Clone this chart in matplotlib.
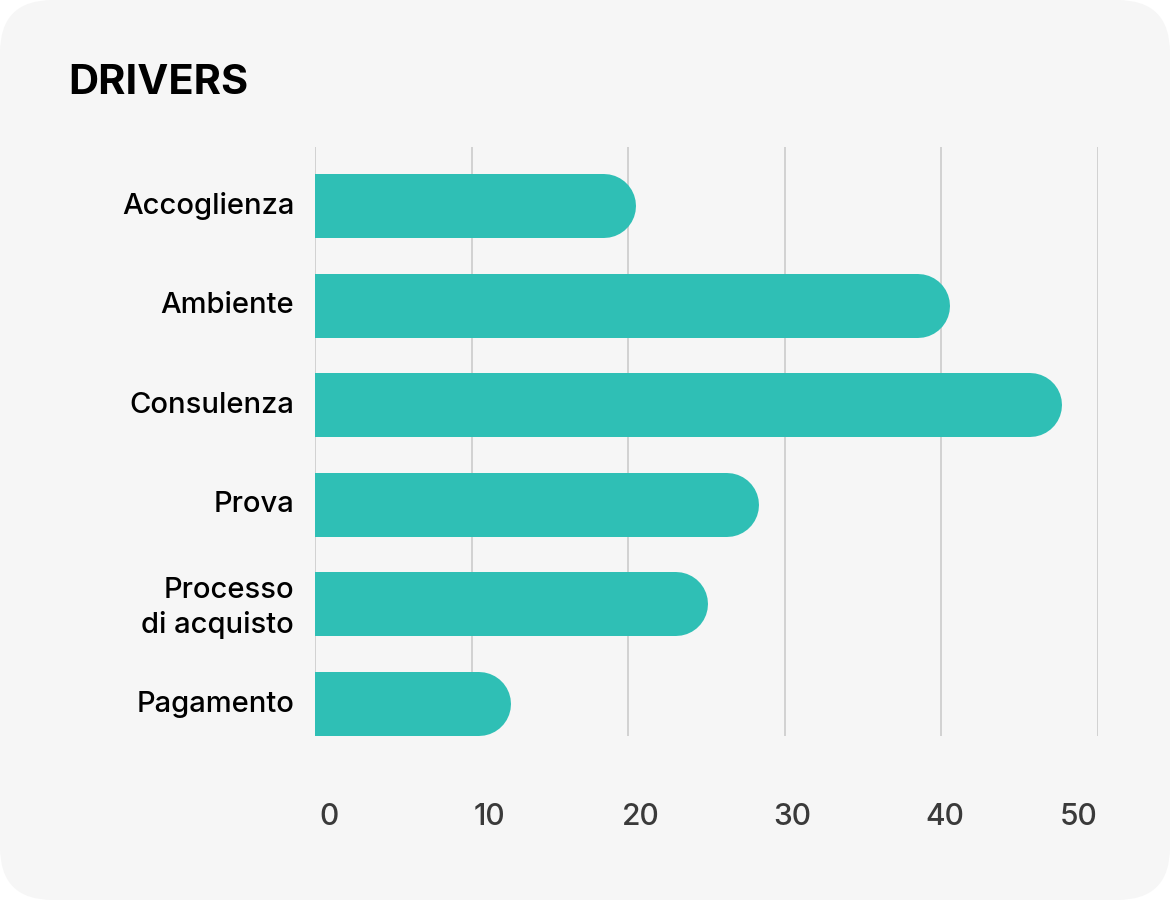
import matplotlib.pyplot as plt
from matplotlib.patches import FancyBboxPatch
from matplotlib.transforms import ScaledTranslation

plt.rcParams['font.family'] = ['Inter', 'DejaVu Sans']

categories = ["Accoglienza", "Ambiente", "Consulenza", "Prova", "Processo\ndi acquisto", "Pagamento"]
values = [20.5, 40.6, 47.7, 28.4, 25.1, 12.5]
ticks = [0, 10, 20, 30, 40, 50]
tick_labels = ["0", "10", "20", "30", "40", "50"]

bar_color = "#2fbfb5"
bg = "#f6f6f6"

fig = plt.figure(figsize=(11.7, 9), dpi=100)
fig.patch.set_facecolor("white")

# card in background
card = FancyBboxPatch((0, 0), 1, 1, boxstyle="round,pad=0,rounding_size=0.045",
                      transform=fig.transFigure, facecolor=bg, edgecolor="none",
                      mutation_aspect=1170 / 900, zorder=-10)
fig.patches.append(card)

ax = fig.add_axes([315 / 1170, 164 / 900, 782.5 / 1170, 589 / 900])
ax.set_facecolor("none")
ax.set_xlim(0, 50)
ax.set_ylim(5.321, -0.592)

for s in ax.spines.values():
    s.set_visible(False)

ax.set_xticks(ticks)
ax.set_xticklabels(tick_labels, fontweight="medium")
ax.grid(axis="x", color="#cfcfcf", linewidth=1.3)
ax.set_axisbelow(True)
ax.tick_params(axis="x", length=0, pad=48, labelsize=21.5, labelcolor="#3a3a3a")

# shift tick labels like the original
shifts = [14, 18, 13, 8, 4, -19]
for lab, dx in zip(ax.get_xticklabels(), shifts):
    lab.set_transform(lab.get_transform() + ScaledTranslation(dx / 100, 0, fig.dpi_scale_trans))

ax.set_yticks(range(len(categories)))
ax.set_yticklabels(categories, fontsize=21, color="black", linespacing=1.3,
                   fontweight="medium")
ax.tick_params(axis="y", length=0, pad=15)
for lab in ax.get_yticklabels():
    lab.set_transform(lab.get_transform() + ScaledTranslation(0, 3 / 100, fig.dpi_scale_trans))

# bars with rounded right end (thick lines, round cap, left cap clipped by axes)
bar_px = 64
px_per_unit = ax.transData.transform((1, 0))[0] - ax.transData.transform((0, 0))[0]
r = (bar_px / 2) / px_per_unit
for i, v in enumerate(values):
    ax.plot([-5, v - r], [i, i], color=bar_color, linewidth=bar_px * 72 / 100,
            solid_capstyle="round", zorder=3)

fig.text(68 / 1170, 1 - 83 / 900, "DRIVERS", fontsize=30, fontweight="bold",
         color="black", va="center", ha="left")

fig.savefig("out.png", dpi=100, facecolor="white")
